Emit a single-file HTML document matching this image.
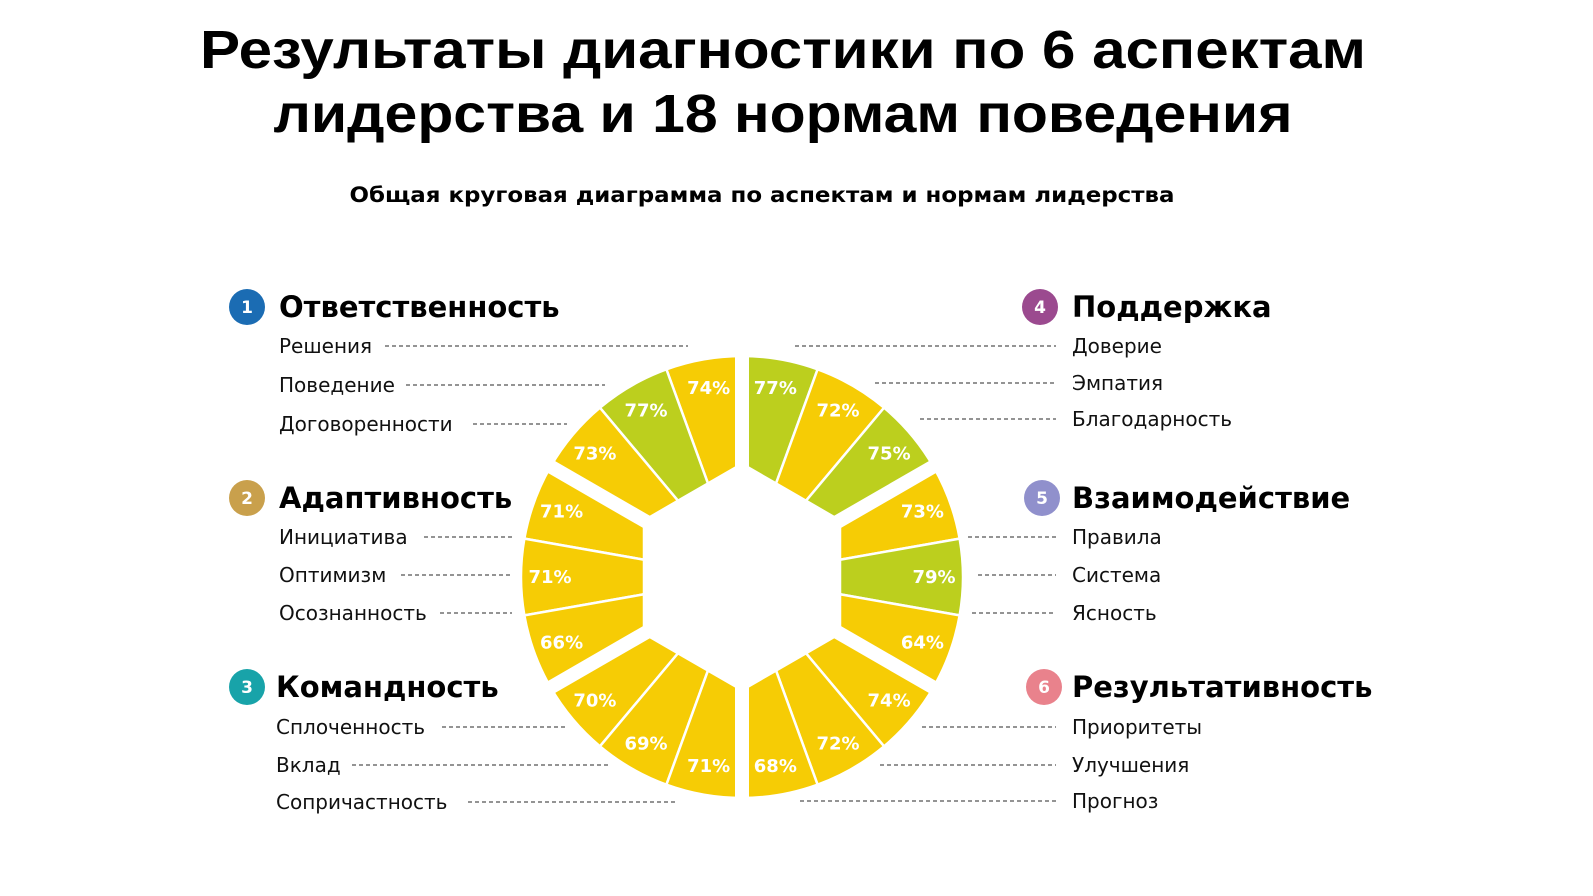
<!DOCTYPE html>
<html><head><meta charset="utf-8"><style>
html,body{margin:0;padding:0;background:#fff;}
svg{display:block;}
.h{font-family:"DejaVu Sans","Liberation Sans",sans-serif;font-weight:bold;font-size:29px;fill:#000;}
.l{font-family:"DejaVu Sans","Liberation Sans",sans-serif;font-size:20px;fill:#111;}
.b{font-family:"DejaVu Sans",sans-serif;font-weight:bold;font-size:17px;fill:#fff;}
.p{font-family:"DejaVu Sans",sans-serif;font-weight:bold;font-size:18px;fill:#fff;}
</style></head><body>
<svg id="chart" width="1593" height="896" viewBox="0 0 1593 896">
<text x="783" y="68" text-anchor="middle" textLength="1166" lengthAdjust="spacingAndGlyphs" style="font-family:'Liberation Sans',sans-serif;font-weight:bold;font-size:54px;">Результаты диагностики по 6 аспектам</text>
<text x="783" y="132" text-anchor="middle" textLength="1019" lengthAdjust="spacingAndGlyphs" style="font-family:'Liberation Sans',sans-serif;font-weight:bold;font-size:54px;">лидерства и 18 нормам поведения</text>
<text x="762" y="202" text-anchor="middle" textLength="825" lengthAdjust="spacingAndGlyphs" style="font-family:'DejaVu Sans',sans-serif;font-weight:bold;font-size:21px;">Общая круговая диаграмма по аспектам и нормам лидерства</text>
<g id="legend"></g>
<g id="donut"></g>
</svg>
<script>
const groups = ["Ответственность","Адаптивность","Командность","Поддержка","Взаимодействие","Результативность"];
const norms = [["Решения","Поведение","Договоренности"],["Инициатива","Оптимизм","Осознанность"],["Сплоченность","Вклад","Сопричастность"],["Доверие","Эмпатия","Благодарность"],["Правила","Система","Ясность"],["Приоритеты","Улучшения","Прогноз"]];
const values = [[74,77,73],[71,71,66],[70,69,71],[77,72,75],[73,79,64],[74,72,68]];
const badgeColors = ["#1b6cb3","#c9a04c","#18a3a9","#9b4a8f","#9090cc","#e9828c"];

const NS="http://www.w3.org/2000/svg";
const cx=742, cy=577, R=221, A=98;
function mk(tag,attrs,parent){const e=document.createElementNS(NS,tag);for(const k in attrs)e.setAttribute(k,attrs[k]);parent.appendChild(e);return e;}
function pt(r,deg){const a=deg*Math.PI/180;return [cx+r*Math.cos(a), cy-r*Math.sin(a)];}
const centers=[120,180,240,60,0,300];
const donut=document.getElementById('donut');
for(let g=0;g<6;g++){
  const th=centers[g];
  for(let s=0;s<3;s++){
    let a0,a1;
    const v=values[g][s];
    if(g===0){a0=90+20*s;a1=a0+20;}
    if(g===1){a0=150+20*s;a1=a0+20;}
    if(g===2){a0=210+20*s;a1=a0+20;}
    if(g===3){a1=90-20*s;a0=a1-20;}
    if(g===4){a1=30-20*s;a0=a1-20;}
    if(g===5){a1=330-20*s;a0=a1-20;}
    const i0=pt(A/Math.cos((a0-th)*Math.PI/180),a0), i1=pt(A/Math.cos((a1-th)*Math.PI/180),a1);
    const o0=pt(R,a0), o1=pt(R,a1);
    const d=`M${i0[0]},${i0[1]} L${i1[0]},${i1[1]} L${o1[0]},${o1[1]} A${R},${R} 0 0 1 ${o0[0]},${o0[1]} Z`;
    const p=mk('path',{d:d,fill:v>=75?'#bccf1e':'#f6cc05',stroke:'#fff','stroke-width':2.5},donut);
    
    
    const lp=pt(192,(a0+a1)/2);
    const t=mk('text',{x:lp[0],y:lp[1]+6,'text-anchor':'middle','class':'p'},donut);
    t.textContent=v+'%';
    
    
  }
}
for(let k=0;k<6;k++){
  const ang=30+60*k; const e=pt(R+10,ang);
  const ln=mk('line',{x1:cx,y1:cy,x2:e[0],y2:e[1],stroke:'#fff','stroke-width':14},donut);
  
  
}
const leg=document.getElementById('legend');
const heads=[[247,307,279],[247,498,279],[247,687,276],[1040,307,1072],[1042,498,1072],[1044,687,1072]];
const rowsL=[[346,385,424],[537,575,613],[727,765,802]];
const rowsR=[[346,383,419],[537,575,613],[727,765,801]];
const startL=[[385,406,473],[424,401,440],[442,352,468]];
const endL=[[688,605,567],[512,512,512],[565,608,675]];
const startR=[[795,875,920],[968,978,972],[922,880,800]];
for(let g=0;g<6;g++){
  const [bx,by,tx]=heads[g];
  const c=mk('circle',{cx:bx,cy:by,r:18,fill:badgeColors[g]},leg);
  
  
  const bt=mk('text',{x:bx,y:by+6,'text-anchor':'middle','class':'b'},leg);bt.textContent=String(g+1);
  
  
  const h=mk('text',{x:tx,y:by+10,'class':'h'},leg);h.textContent=groups[g];
  
  
  const left=g<3, gi=g%3;
  for(let s=0;s<3;s++){
    const y=left?rowsL[gi][s]:rowsR[gi][s];
    const t=mk('text',{x:tx,y:y+7,'class':'l'},leg);t.textContent=norms[g][s];
    
    
    let x1,x2;
    if(left){x1=startL[gi][s];x2=endL[gi][s];}else{x1=startR[gi][s];x2=1056;}
    const ln=mk('line',{x1:x1,y1:y,x2:x2,y2:y,stroke:'#555','stroke-width':1.3,'stroke-dasharray':'4 3'},leg);
    
    
  }
}
</script>
</body></html>
